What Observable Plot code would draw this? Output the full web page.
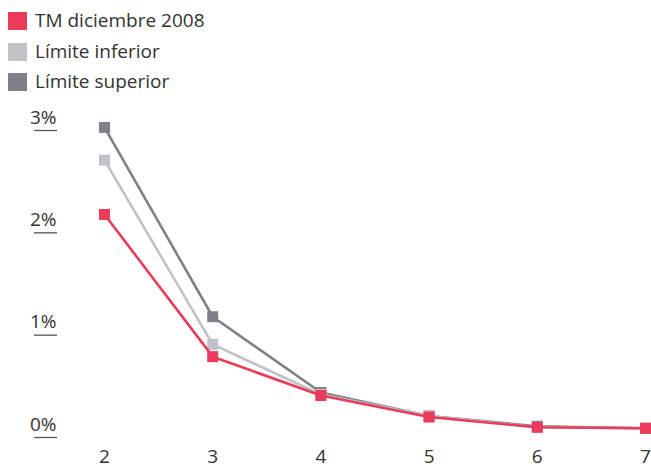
<!DOCTYPE html>
<html>
<head>
<meta charset="utf-8">
<script src="https://cdn.jsdelivr.net/npm/d3@7"></script>
<script src="https://cdn.jsdelivr.net/npm/@observablehq/plot@0.6"></script>
<style>
  body { margin: 0; background: #fff; font-family: "Open Sans", sans-serif; color: #333; }
  #legend { height: 100px; position: relative; }
  .sw { position: absolute; left: 8px; width: 19px; height: 18px; }
  .lab { position: absolute; left: 35px; font-size: 19px; line-height: 1; white-space: nowrap; }
  #chart svg { display: block; overflow: visible; }
</style>
</head>
<body>
<div id="legend"></div>
<div id="chart"></div>
<script>
const years = [2, 3, 4, 5, 6, 7];
const tmDic2008 = [2.18, 0.79, 0.41, 0.20, 0.10, 0.09];
const limInferior = [2.71, 0.91, 0.42, 0.21, 0.10, 0.09];
const limSuperior = [3.03, 1.18, 0.44, 0.21, 0.11, 0.09];
const seriesNames = ["TM diciembre 2008", "Límite inferior", "Límite superior"];
const seriesColors = ["#EA3B5A", "#BFC3C8", "#7F8189"];
const yTicks = [0, 1, 2, 3];

const legend = document.getElementById("legend");
seriesNames.forEach((n, i) => {
  const top = 12 + i * 30.5;
  const sw = document.createElement("div");
  sw.className = "sw";
  sw.style.top = top + "px";
  sw.style.background = seriesColors[i];
  const t = document.createElement("div");
  t.className = "lab";
  t.style.top = (top - 1) + "px";
  t.textContent = n;
  legend.appendChild(sw);
  legend.appendChild(t);
});

const mk = (vals) => years.map((x, i) => ({x, y: vals[i]}));
const dSup = mk(limSuperior), dInf = mk(limInferior), dTm = mk(tmDic2008);

const chart = Plot.plot({
  width: 651,
  height: 369,
  marginTop: 30,
  marginBottom: 32,
  marginLeft: 57,
  marginRight: 6,
  insetLeft: 47,
  style: { fontFamily: "Open Sans, sans-serif", fontSize: "19px", color: "#333", overflow: "visible" },
  x: { domain: [2, 7] },
  y: { domain: [0, 3] },
  marks: [
    Plot.axisY(yTicks, { tickSize: 23, tickFormat: () => "", stroke: "#555", strokeWidth: 1.3, label: null }),
    Plot.text(yTicks, { y: d => d, text: d => d + "%", frameAnchor: "left", dx: -1, dy: -7, textAnchor: "end", lineAnchor: "bottom", fill: "#333", fontSize: 19 }),
    Plot.axisX(years, { tickSize: 0, tickPadding: 12, tickFormat: d => String(d), label: null, fill: "#333", fontSize: 19 }),
    Plot.line(dSup, { x: "x", y: "y", stroke: seriesColors[2], strokeWidth: 2.6 }),
    Plot.dot(dSup, { x: "x", y: "y", symbol: "square", r: 6.2, fill: seriesColors[2] }),
    Plot.line(dInf, { x: "x", y: "y", stroke: seriesColors[1], strokeWidth: 2.6 }),
    Plot.dot(dInf, { x: "x", y: "y", symbol: "square", r: 6.2, fill: seriesColors[1] }),
    Plot.line(dTm, { x: "x", y: "y", stroke: seriesColors[0], strokeWidth: 2.6 }),
    Plot.dot(dTm, { x: "x", y: "y", symbol: "square", r: 6.2, fill: seriesColors[0] })
  ]
});
document.getElementById("chart").appendChild(chart);
</script>
</body>
</html>
